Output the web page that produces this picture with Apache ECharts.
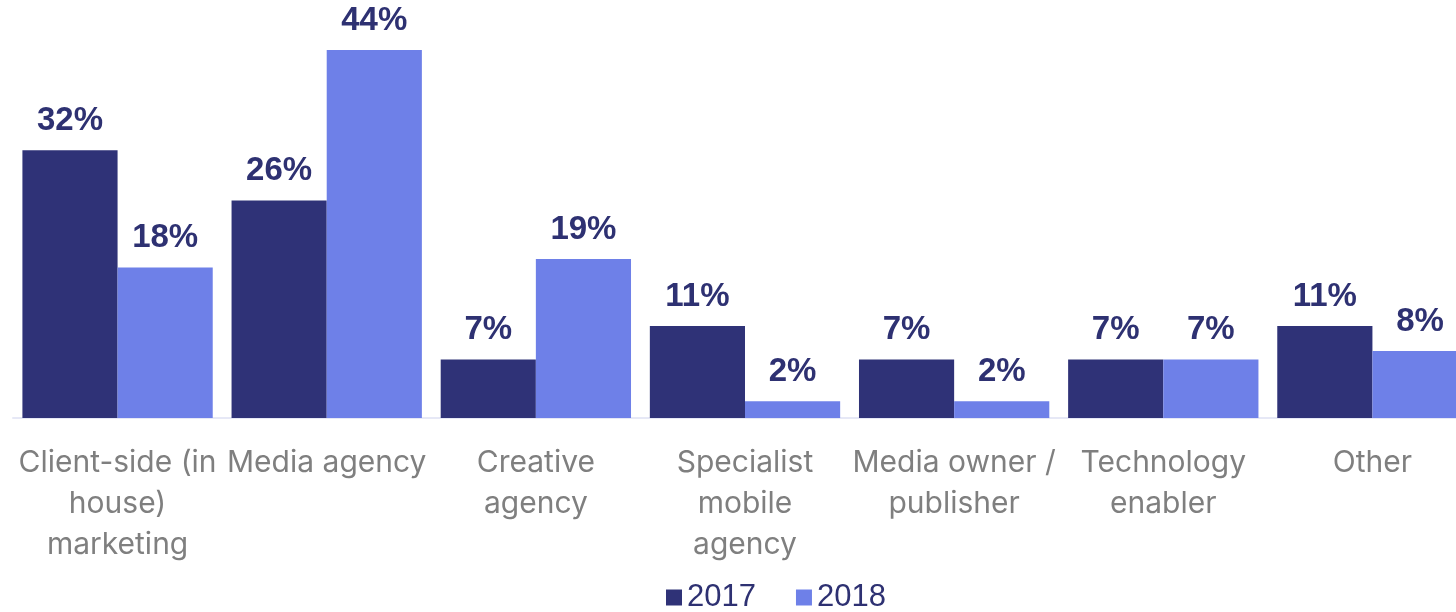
<!DOCTYPE html>
<html>
<head>
<meta charset="utf-8">
<script src="https://cdn.jsdelivr.net/npm/echarts@6/dist/echarts.min.js"></script>
<style>
  html, body { margin: 0; padding: 0; background: #ffffff; overflow: hidden; }
  #chart { width: 1477px; height: 612px; }
</style>
</head>
<body>
<div id="chart"></div>
<script>
// Respondent roles, 2017 vs 2018 (share of respondents, %)
const categories = [
  'Client-side (in\nhouse)\nmarketing',
  'Media agency',
  'Creative\nagency',
  'Specialist\nmobile\nagency',
  'Media owner /\npublisher',
  'Technology\nenabler',
  'Other'
];
const values2017 = [32, 26, 7, 11, 7, 7, 11];
const values2018 = [18, 44, 19, 2, 2, 7, 8];
const seriesNames = ['2017', '2018'];

const DARK = '#2f3277';
const LIGHT = '#6e80e8';
const LABEL = '#2e3172';

const barLabel = {
  show: true,
  position: 'top',
  distance: 13,
  formatter: p => p.value + '%',
  color: LABEL,
  fontFamily: 'Liberation Sans, Arial, sans-serif',
  fontWeight: 'bold',
  fontSize: 33
};

// The plot runs slightly past the right edge of the page; the last bar is clipped.
const chart = echarts.init(document.getElementById('chart'), null, { renderer: 'canvas' });
chart.setOption({
  animation: false,
  backgroundColor: '#ffffff',
  grid: { left: 13, right: 0, top: 50, height: 368, containLabel: false },
  legend: {
    top: 577,
    left: 661,
    itemWidth: 16,
    itemHeight: 16,
    itemGap: 40,
    icon: 'rect',
    textStyle: {
      color: LABEL,
      fontFamily: 'Liberation Sans, Arial, sans-serif',
      fontSize: 31
    },
    data: seriesNames
  },
  xAxis: {
    type: 'category',
    data: categories,
    axisLine: { show: true, lineStyle: { color: '#e6e8f6', width: 2 } },
    axisTick: { show: false },
    axisLabel: {
      interval: 0,
      margin: 24,
      color: '#7f7f7f',
      fontFamily: 'Inter, Roboto, sans-serif',
      fontSize: 30,
      lineHeight: 41
    }
  },
  yAxis: {
    type: 'value',
    min: 0,
    max: 44,
    show: false,
    splitLine: { show: false }
  },
  series: [
    {
      name: seriesNames[0],
      type: 'bar',
      data: values2017,
      barGap: '0%',
      barCategoryGap: '9%',
      itemStyle: { color: DARK },
      label: barLabel
    },
    {
      name: seriesNames[1],
      type: 'bar',
      data: values2018,
      itemStyle: { color: LIGHT },
      label: barLabel
    }
  ]
});
</script>
</body>
</html>
